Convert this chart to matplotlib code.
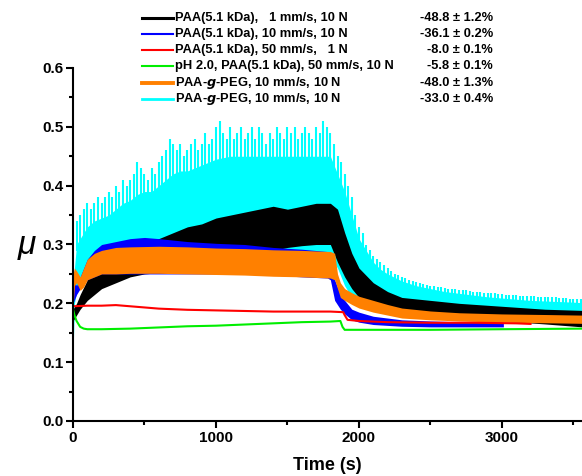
import numpy as np
import matplotlib
matplotlib.use("Agg")
from matplotlib import pyplot as plt
from matplotlib.lines import Line2D

plt.rcParams["font.family"] = ["Liberation Sans", "DejaVu Sans"]
plt.rcParams["font.weight"] = "bold"

# legend entries and friction change
labels = [
    "PAA(5.1 kDa),   1 mm/s, 10 N",
    "PAA(5.1 kDa), 10 mm/s, 10 N",
    "PAA(5.1 kDa), 50 mm/s,   1 N",
    "pH 2.0, PAA(5.1 kDa), 50 mm/s, 10 N",
    "PAA-$g$-PEG, 10 mm/s, 10 N",
    "PAA-$g$-PEG, 10 mm/s, 10 N",
]
changes = ["-48.8 \u00b1 1.2%", "-36.1 \u00b1 0.2%", "-8.0 \u00b1 0.1%",
           "-5.8 \u00b1 0.1%", "-48.0 \u00b1 1.3%", "-33.0 \u00b1 0.4%"]
colors = ["black", "#0000ff", "#ff0000", "#00ee00", "#ff8000", "#00ffff"]
handle_lw = [2.2, 1.5, 1.5, 1.5, 2.8, 2.0]

# cyan: PAA-g-PEG 10 mm/s -- solid band (low..valley) plus spikes every 25 s
t_cyan = [0, 10, 25, 50, 100, 150, 200, 250, 300, 350, 400, 450, 500, 550, 600,
          650, 700, 750, 800, 850, 900, 950, 1000, 1100, 1200, 1300, 1400, 1500,
          1600, 1700, 1800, 1850, 1900, 1950, 2000, 2050, 2100, 2150, 2200, 2300,
          2400, 2500, 2600, 2700, 2800, 2900, 3000, 3100, 3200, 3300, 3400, 3500,
          3560]
cyan_valley = [0.22, 0.26, 0.30, 0.31, 0.33, 0.34, 0.345, 0.35, 0.36, 0.37,
               0.375, 0.385, 0.39, 0.39, 0.40, 0.41, 0.42, 0.425, 0.425, 0.43,
               0.435, 0.44, 0.445, 0.45, 0.45, 0.45, 0.45, 0.45, 0.45, 0.45,
               0.45, 0.42, 0.39, 0.35, 0.31, 0.29, 0.27, 0.258, 0.25, 0.238,
               0.23, 0.225, 0.22, 0.217, 0.214, 0.211, 0.209, 0.207, 0.205,
               0.204, 0.203, 0.202, 0.201]
cyan_low = [0.11, 0.20, 0.22, 0.24, 0.25, 0.26, 0.27, 0.27, 0.27, 0.28, 0.28,
            0.28, 0.28, 0.28, 0.28, 0.28, 0.28, 0.28, 0.28, 0.28, 0.28, 0.28,
            0.28, 0.28, 0.28, 0.28, 0.28, 0.28, 0.28, 0.28, 0.28, 0.26, 0.23,
            0.21, 0.20, 0.195, 0.19, 0.188, 0.186, 0.184, 0.182, 0.181, 0.18,
            0.18, 0.179, 0.179, 0.178, 0.178, 0.178, 0.178, 0.177, 0.177, 0.177]
t_spike = np.arange(0, 3551, 25)
cyan_peak = [
    0.26, 0.34, 0.35, 0.36, 0.37, 0.36, 0.37, 0.38, 0.37,
    0.38, 0.39, 0.38, 0.40, 0.39, 0.41, 0.40, 0.41,
    0.42, 0.44, 0.43, 0.42, 0.41, 0.43, 0.42, 0.44,
    0.45, 0.46, 0.48, 0.47, 0.46, 0.47, 0.45, 0.46,
    0.47, 0.48, 0.46, 0.47, 0.49, 0.47, 0.48, 0.50,
    0.51, 0.49, 0.48, 0.50, 0.48, 0.49, 0.50, 0.48,
    0.49, 0.50, 0.48, 0.50, 0.49, 0.47, 0.49, 0.48,
    0.50, 0.49, 0.48, 0.50, 0.49, 0.50, 0.48, 0.49,
    0.50, 0.49, 0.48, 0.50, 0.49, 0.51, 0.50, 0.49,
    0.47, 0.45, 0.44, 0.42, 0.40, 0.38, 0.35, 0.33,
    0.32, 0.30, 0.29, 0.28, 0.275, 0.27, 0.265, 0.26,
    0.255, 0.25, 0.248, 0.245, 0.243, 0.24, 0.238, 0.236,
    0.235, 0.233, 0.232, 0.23, 0.229, 0.228, 0.227, 0.226,
    0.225, 0.225, 0.224, 0.223, 0.222, 0.222, 0.221, 0.22,
    0.22, 0.219, 0.218, 0.218, 0.217, 0.217, 0.216, 0.216,
    0.215, 0.215, 0.214, 0.214, 0.213, 0.213, 0.213, 0.212,
    0.212, 0.211, 0.211, 0.211, 0.21, 0.21, 0.21, 0.209,
    0.209, 0.209, 0.208, 0.208, 0.208, 0.207,
]
spike_base = 0.85  # spike foot as a fraction of its tip

# black: PAA 1 mm/s
t_black = [0, 25, 50, 100, 150, 200, 300, 400, 500, 600, 700, 800, 900, 1000,
           1100, 1200, 1300, 1400, 1500, 1600, 1700, 1800, 1850, 1900, 1950,
           2000, 2100, 2200, 2300, 2500, 2700, 3000, 3300, 3560]
black_high = [0.19, 0.20, 0.215, 0.24, 0.255, 0.265, 0.28, 0.295, 0.305, 0.31,
              0.32, 0.33, 0.335, 0.345, 0.35, 0.355, 0.36, 0.365, 0.36, 0.365,
              0.37, 0.37, 0.36, 0.32, 0.285, 0.26, 0.235, 0.22, 0.21, 0.205,
              0.20, 0.195, 0.19, 0.188]
black_low = [0.17, 0.18, 0.19, 0.205, 0.215, 0.225, 0.235, 0.245, 0.25, 0.252,
             0.255, 0.258, 0.262, 0.266, 0.27, 0.275, 0.282, 0.29, 0.295, 0.298,
             0.3, 0.3, 0.27, 0.245, 0.225, 0.21, 0.198, 0.19, 0.186, 0.18, 0.176,
             0.17, 0.165, 0.16]

# blue: PAA 10 mm/s
t_blue = [0, 25, 50, 100, 150, 200, 300, 400, 500, 600, 800, 1000, 1200, 1400,
          1600, 1780, 1800, 1830, 1870, 1900, 1950, 2000, 2100, 2300, 2500, 2800,
          3010]
blue_high = [0.24, 0.23, 0.245, 0.275, 0.29, 0.30, 0.305, 0.31, 0.312, 0.31,
             0.305, 0.302, 0.30, 0.295, 0.292, 0.288, 0.285, 0.24, 0.215, 0.205,
             0.19, 0.185, 0.178, 0.172, 0.17, 0.168, 0.168]
blue_low = [0.20, 0.215, 0.225, 0.24, 0.245, 0.25, 0.25, 0.25, 0.25, 0.25, 0.25,
            0.25, 0.25, 0.248, 0.245, 0.243, 0.24, 0.205, 0.19, 0.182, 0.172,
            0.168, 0.164, 0.161, 0.16, 0.16, 0.16]

# orange: PAA-g-PEG 10 mm/s
t_orange = [0, 10, 25, 50, 75, 100, 150, 200, 300, 400, 600, 800, 1000, 1200,
            1400, 1600, 1800, 1830, 1850, 1870, 1900, 1950, 2000, 2100, 2200,
            2300, 2500, 2700, 3000, 3300, 3560]
orange_high = [0.25, 0.26, 0.255, 0.245, 0.26, 0.275, 0.285, 0.29, 0.295, 0.296,
               0.297, 0.296, 0.294, 0.293, 0.291, 0.29, 0.288, 0.285, 0.25,
               0.235, 0.225, 0.218, 0.212, 0.205, 0.198, 0.192, 0.187, 0.184,
               0.182, 0.181, 0.18]
orange_low = [0.19, 0.23, 0.235, 0.222, 0.228, 0.24, 0.245, 0.25, 0.25, 0.251,
              0.251, 0.25, 0.249, 0.248, 0.246, 0.245, 0.243, 0.24, 0.225, 0.21,
              0.205, 0.198, 0.192, 0.185, 0.18, 0.175, 0.172, 0.17, 0.168, 0.167,
              0.166]

# red: PAA 50 mm/s, 1 N
t_red = [0, 100, 200, 300, 400, 500, 600, 700, 800, 1000, 1200, 1400, 1600,
         1800, 1890, 1900, 1920, 2000, 2200, 2500, 2800, 3100, 3200]
red_mu = [0.195, 0.196, 0.196, 0.197, 0.195, 0.193, 0.191, 0.19, 0.189, 0.188,
          0.187, 0.186, 0.186, 0.186, 0.185, 0.18, 0.172, 0.17, 0.168, 0.167,
          0.167, 0.166, 0.165]

# green: pH 2.0, PAA 50 mm/s, 10 N
t_green = [0, 10, 25, 50, 75, 100, 200, 400, 600, 800, 1000, 1200, 1400, 1600,
           1800, 1870, 1885, 1900, 2000, 2500, 3000, 3560]
green_mu = [0.19, 0.18, 0.17, 0.16, 0.157, 0.156, 0.156, 0.157, 0.159, 0.161,
            0.162, 0.164, 0.166, 0.168, 0.169, 0.17, 0.16, 0.155, 0.155, 0.155,
            0.156, 0.157]

fig = plt.figure(figsize=(5.82, 4.76), dpi=100)
ax = fig.add_axes([73 / 582, 1 - 421 / 476, 1 - 73 / 582, (421 - 68) / 476])

ax.fill_between(t_cyan, cyan_low, cyan_valley, color=colors[5], lw=0, zorder=1)
peaks = np.array(cyan_peak)
ax.vlines(t_spike, peaks * spike_base, peaks, color=colors[5], lw=1.5,
          zorder=1)
ax.fill_between(t_black, black_low, black_high, color=colors[0], lw=0, zorder=2)
ax.fill_between(t_blue, blue_low, blue_high, color=colors[1], lw=0, zorder=3)
ax.fill_between(t_orange, orange_low, orange_high, color=colors[4], lw=0,
                zorder=4)
ax.plot(t_red, red_mu, color=colors[2], lw=1.5, zorder=5)
ax.plot(t_green, green_mu, color=colors[3], lw=1.5, zorder=6)

ax.set_xlim(0, 3560)
ax.set_ylim(0, 0.6)
ax.set_xticks([0, 1000, 2000, 3000])
ax.set_xticks([500, 1500, 2500, 3500], minor=True)
ax.set_yticks(np.arange(0, 0.61, 0.1))
ax.set_yticks(np.arange(0.05, 0.6, 0.1), minor=True)
ax.yaxis.set_major_formatter(matplotlib.ticker.FormatStrFormatter("%.1f"))
for s in ["top", "right"]:
    ax.spines[s].set_visible(False)
for s in ["left", "bottom"]:
    ax.spines[s].set_linewidth(1.5)
    ax.spines[s].set_zorder(10)
ax.tick_params(which="major", length=5, width=1.5, labelsize=11, pad=2)
ax.tick_params(which="minor", length=3, width=1.5)
for lab in ax.get_xticklabels() + ax.get_yticklabels():
    lab.set_fontweight("bold")
ax.set_xlabel("Time (s)", fontsize=13, fontweight="bold", labelpad=9)
fig.text(27 / 582, 1 - 245 / 476, "\u03bc", fontsize=24, style="italic",
         fontweight="normal", ha="center", va="center")

# legend drawn by hand
row_y = [17.7, 34.0, 50.0, 66.3, 82.7, 99.0]
for i in range(6):
    yf = 1 - row_y[i] / 476
    fig.add_artist(Line2D([142 / 582, 173 / 582], [yf, yf], color=colors[i],
                          lw=handle_lw[i], transform=fig.transFigure))
    fig.text(175 / 582, yf, labels[i], fontsize=9.3, fontweight="bold",
             va="center", ha="left")
    fig.text(493 / 582, yf, changes[i], fontsize=9.3, fontweight="bold",
             va="center", ha="right")

fig.savefig("out.png", dpi=100)
